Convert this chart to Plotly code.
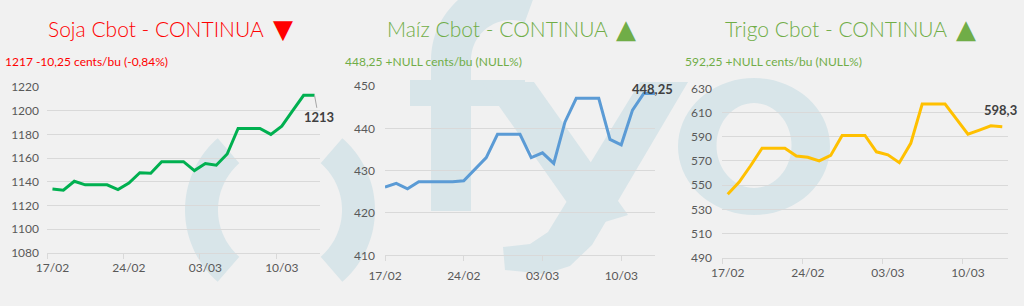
import numpy as np
import plotly.graph_objects as go

# ---------------- data ----------------
dates = ["2021-02-%02d" % d for d in range(17, 29)] + ["2021-03-%02d" % d for d in range(1, 14)]
tick_dates = ["2021-02-17", "2021-02-24", "2021-03-03", "2021-03-10"]
tick_labels = ["17/02", "24/02", "03/03", "10/03"]
bound_dates = ["2021-02-16 12:00", "2021-02-23 12:00", "2021-03-02 12:00", "2021-03-09 12:00"]

soja = [1134, 1133, 1140.5, 1137.5, 1137.5, 1137.5, 1133.5, 1139, 1147.75, 1147.25,
        1157, 1157, 1157, 1149.5, 1155.5, 1154, 1163.5, 1185, 1185, 1185,
        1180, 1187, 1200, 1213, 1213]
maiz = [426.1, 427.0, 425.7, 427.4, 427.4, 427.4, 427.4, 427.6, 430.3, 433.1,
        438.6, 438.6, 438.6, 433.1, 434.2, 431.7, 441.5, 447.1, 447.1, 447.1,
        437.4, 436.1, 444.3, 448.25, 448.25]
trigo = [542.5, 552.5, 566, 580.5, 580.5, 580.5, 574, 573, 570, 574.5,
         591, 591, 591, 577.5, 575, 568.5, 584.5, 617, 617, 617,
         604.5, 592, 595.5, 599, 598.3]

titles = ["Soja Cbot - CONTINUA", "Maíz Cbot - CONTINUA", "Trigo Cbot - CONTINUA"]
arrows = ["▼", "▲", "▲"]
subtitles = ["1217 -10,25 cents/bu (-0,84%)", "448,25 +NULL cents/bu (NULL%)", "592,25 +NULL cents/bu (NULL%)"]
last_labels = ["1213", "448,25", "598,3"]

RED = "#ff0000"
GREEN_T = "#70ad47"
BG = "#f1f1f1"
WM = "#d8e5e9"
GRID = "#d9d9d9"
TICKC = "#595959"

W, H = 1024, 306
def px(x, y):
    return x / W, 1 - y / H

fig = go.Figure()

fig.add_trace(go.Scatter(x=dates, y=soja, mode="lines", line=dict(color="#00b050", width=3),
                         xaxis="x", yaxis="y", hoverinfo="skip"))
fig.add_trace(go.Scatter(x=dates, y=maiz, mode="lines", line=dict(color="#5b9bd5", width=3),
                         xaxis="x2", yaxis="y2", hoverinfo="skip"))
fig.add_trace(go.Scatter(x=dates, y=trigo, mode="lines", line=dict(color="#ffc000", width=3),
                         xaxis="x3", yaxis="y3", hoverinfo="skip"))

font_ticks = dict(family="Lato, Open Sans, sans-serif", size=12, color=TICKC)

def xaxis(domain, anchor, rng, between):
    d = dict(domain=domain, anchor=anchor, type="date", range=rng, automargin=False,
             tickmode="array", tickvals=tick_dates, ticktext=tick_labels,
             showgrid=False, zeroline=False, showline=True, linecolor=GRID, linewidth=1,
             tickfont=font_ticks, ticklabelstandoff=4, fixedrange=True)
    if between:
        d.update(ticks="", minor=dict(tickmode="array", tickvals=bound_dates, ticks="outside",
                                      ticklen=5, tickcolor=GRID, tickwidth=1, showgrid=False))
    else:
        d.update(ticks="outside", ticklen=5, tickcolor=GRID, tickwidth=1)
    return d

def yaxis(domain, anchor, rng, dtick, standoff):
    return dict(domain=domain, anchor=anchor, range=rng, dtick=dtick, tick0=rng[0], automargin=False,
                showgrid=True, gridcolor=GRID, gridwidth=1, zeroline=False, showline=False,
                ticks="", tickfont=font_ticks, ticklabelstandoff=standoff, fixedrange=True)

x1d = [47 / W, 320 / W]
x2d = [385 / W, 655 / W]
x3d = [722 / W, 1008 / W]
y1d = [1 - 253 / H, 1 - 87 / H]
y2d = [1 - 255.3 / H, 1 - 86 / H]
y3d = [1 - 257.7 / H, 1 - 88.3 / H]

# ---------------- watermark shapes ----------------
def poly(points):
    s = ""
    for i, (x, y) in enumerate(points):
        X, Y = px(x, y)
        s += ("M" if i == 0 else "L") + f"{X:.5f},{Y:.5f} "
    return s + "Z "

def ring_arc(cx, cy, R, r, a0, a1, n=40):
    a = np.radians(np.linspace(a0, a1, n))
    outer = [(cx + R * np.cos(t), cy - R * np.sin(t)) for t in a]
    inner = [(cx + r * np.cos(t), cy - r * np.sin(t)) for t in a[::-1]]
    return poly(outer + inner)

def ellipse(cx, cy, rx, ry, reverse=False, n=72):
    a = np.radians(np.linspace(0, 360, n, endpoint=False))
    if reverse:
        a = a[::-1]
    return poly([(cx + rx * np.cos(t), cy - ry * np.sin(t)) for t in a])

shapes = []
def add_path(path):
    shapes.append(dict(type="path", path=path, xref="paper", yref="paper",
                       fillcolor=WM, line=dict(width=0), layer="below"))

# "( )"
add_path(ring_arc(280, 210, 95, 62, 131, 229))
add_path(ring_arc(280, 210, 95, 62, -49, 49))
# "f"
add_path(poly([(431, 211), (471, 211), (471, 60), (431, 60)]))
add_path(poly([(410, 80), (525, 80), (525, 106), (410, 106)]))
add_path(ring_arc(511, 60, 80, 40, 70, 180))
# "y"
add_path(poly([(482, 82), (534, 82), (628, 215), (585, 228)]))
add_path(poly([(640, 82), (688, 82), (592, 245), (570, 266), (545, 274), (505, 270),
               (503, 247), (530, 244), (548, 232)]))
# "o"
add_path(ellipse(754, 146.5, 76, 68.5) + ellipse(754, 145.5, 37.5, 42.5, reverse=True))

# ---------------- annotations ----------------
ann = []
title_font = "Lato, Open Sans, sans-serif"
colors = [RED, GREEN_T, GREEN_T]
title_x = [46, 385, 723]
arrow_x = [282.5, 625.5, 965.5]
sub_x = [3, 343, 683]
for i in range(3):
    X, Y = px(title_x[i], 28.5)
    ann.append(dict(text=titles[i], x=X, y=Y, xref="paper", yref="paper", showarrow=False,
                    xanchor="left", yanchor="middle",
                    font=dict(family=title_font, size=21, color=colors[i], weight=300)))
    X, Y = px(arrow_x[i], 28.5)
    ann.append(dict(text=arrows[i], x=X, y=Y, xref="paper", yref="paper", showarrow=False,
                    xanchor="center", yanchor="middle",
                    font=dict(family="DejaVu Sans", size=26, color=colors[i])))
    X, Y = px(sub_x[i], 62)
    ann.append(dict(text=subtitles[i], x=X, y=Y, xref="paper", yref="paper", showarrow=False,
                    xanchor="left", yanchor="middle",
                    font=dict(family=title_font, size=12, color=colors[i])))

lab_font = dict(family="Lato, Open Sans, sans-serif", size=13, color="#404040", weight="bold")
ann.append(dict(text=last_labels[0], x=dates[-1], y=soja[-1], xref="x", yref="y",
                showarrow=True, arrowhead=0, arrowwidth=1, arrowcolor="#a6a6a6",
                ax=4, ay=22, font=lab_font))
ann.append(dict(text=last_labels[1], x=dates[-1], y=maiz[-1], xref="x2", yref="y2",
                showarrow=False, xshift=-3, yshift=4, font=lab_font))
ann.append(dict(text=last_labels[2], x=dates[-1], y=trigo[-1], xref="x3", yref="y3",
                showarrow=False, xshift=-2, yshift=17, font=lab_font))

fig.update_layout(
    width=W, height=H, margin=dict(l=0, r=0, t=0, b=0, autoexpand=False),
    paper_bgcolor=BG, plot_bgcolor="rgba(0,0,0,0)", showlegend=False,
    xaxis=xaxis(x1d, "y", ["2021-02-16 12:00", "2021-03-13 12:00"], True),
    xaxis2=xaxis(x2d, "y2", ["2021-02-17", "2021-03-13"], False),
    xaxis3=xaxis(x3d, "y3", ["2021-02-16 12:00", "2021-03-13 12:00"], True),
    yaxis=yaxis(y1d, "x", [1080, 1220], 20, 7),
    yaxis2=yaxis(y2d, "x2", [410, 450], 10, 9),
    yaxis3=yaxis(y3d, "x3", [490, 630], 20, 9),
    shapes=shapes, annotations=ann,
)

fig.write_html("out.html", config=dict(displayModeBar=False))
